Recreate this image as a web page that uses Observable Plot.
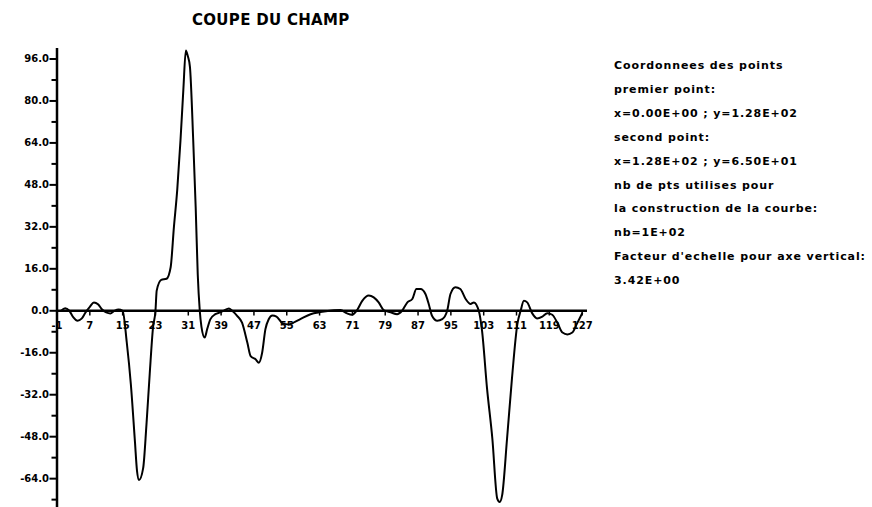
<!DOCTYPE html>
<html>
<head>
<meta charset="utf-8">
<script src="https://cdn.jsdelivr.net/npm/d3@7"></script>
<script src="https://cdn.jsdelivr.net/npm/@observablehq/plot@0.6"></script>
<style>
  html, body { margin: 0; padding: 0; background: white; }
  #wrap { position: relative; width: 872px; height: 507px; overflow: hidden; font-family: "DejaVu Sans", sans-serif; }
  #title { position: absolute; left: 192px; top: 11px; font-size: 15px; font-weight: bold; white-space: nowrap; letter-spacing: 0.3px; }
  #info { position: absolute; left: 614px; top: 54px; font-size: 11px; font-weight: bold; line-height: 23.9px; letter-spacing: 0.9px; white-space: nowrap; }
  svg { position: absolute; left: 0; top: 0; }
</style>
</head>
<body>
<div id="wrap">
  <div id="title"></div>
  <div id="info"></div>
</div>
<script>
const title = "COUPE DU CHAMP";
const infoLines = [
  "Coordonnees des points",
  "premier point:",
  "x=0.00E+00 ; y=1.28E+02",
  "second point:",
  "x=1.28E+02 ; y=6.50E+01",
  "nb de pts utilises pour",
  "la construction de la courbe:",
  "nb=1E+02",
  "Facteur d'echelle pour axe vertical:",
  "3.42E+00"
];
const xTicks = [-1, 7, 15, 23, 31, 39, 47, 55, 63, 71, 79, 87, 95, 103, 111, 119, 127];
const yMajor = [96, 80, 64, 48, 32, 16, 0, -16, -32, -48, -64];
const yMinor = [88, 72, 56, 40, 24, 8, -8, -24, -40, -56, -72];

const curveX = [0, 1, 2, 3, 4, 5, 6, 7, 8, 9, 10, 11, 12, 13, 14, 15,
  16, 17, 18, 18.5, 19, 20, 20.8, 21.6, 22.4, 23, 23.3, 24.4, 25.7, 26.7, 27.5, 28.3, 29.1, 29.8, 30.4, 30.9, 31.4, 32.2, 32.8, 33.3, 33.8,
  34.2, 35, 35.6, 36.4, 37.6, 38.8, 39.6, 40.9, 41.7, 42.9, 44.1, 45.4, 46.2, 47.4, 48.2, 49, 49.8, 50.6, 51.5, 52.5, 54, 55.5, 57, 58.3, 60.8, 63.2, 66.5,
  68.1, 69.7, 70.9, 72.2, 73.4, 75, 76.2, 77.4, 78.6, 80.3, 81.9, 83.1, 84.4, 85.6, 86.6, 87.6, 88.8, 89.6, 90.4, 91.7, 92.9, 94.1, 94.9, 96.1, 97.3, 98.6, 99.8,
  100.6, 101.8, 102.6, 103.8, 105.1, 106.3, 106.9, 107.5, 108.7, 109.9, 111.2, 112, 112.8, 113.6, 114.8, 116, 117.3, 118.5, 119.7, 121, 122.2, 123.4, 124.6, 125.8, 127];
const curveY = [0, 1.0, 0, -2.5, -3.8, -3.0, -0.5, 1.5, 3.2, 2.5, 0.5, -0.6, -1.0, 0, 0.5, 0,
  -12, -28, -50, -61, -64.5, -60, -43.5, -24, -6.4, 0, 7.7, 11.8, 12.2, 16.6, 32, 46, 65, 84.4, 99.2, 97, 93, 65, 39.6, 14, 0,
  -6, -10.2, -7, -3.2, -1.3, -0.6, 0, 0.9, 0, -1.9, -4.5, -12.2, -17.3, -18.5, -19.8, -16, -7, -3.2, -1.8, -2.2, -4.8, -5.2, -4.2, -3.2, -1.3, -0.5, 0.2,
  0.3, -1, -1.5, 0.4, 3.8, 5.8, 5.1, 3.2, 0.3, -0.6, -1.3, 0, 3.2, 4.5, 8.3, 8.3, 6.4, 2.6, -1.9, -3.8, -3.2, 0, 6.4, 9, 8.3, 4.5, 2.6,
  3.2, 0, -7.7, -29.4, -48.6, -71.6, -72.9, -70.3, -48.6, -25.6, -5.1, 0, 3.8, 3.2, -0.9, -2.9, -2.2, -0.9, -1.5, -4.7, -8.3, -9, -8.3, -4.7, -1];

const data = curveX.map((x, i) => ({x, y: curveY[i]}));

document.getElementById("title").textContent = title;
document.getElementById("info").innerHTML = infoLines.map(s => `<div>${s}</div>`).join("");

const chart = Plot.plot({
  width: 872,
  height: 507,
  marginLeft: 56.5,
  marginRight: 285,
  marginTop: 48,
  marginBottom: 0,
  style: {background: "transparent", color: "black", fontFamily: "DejaVu Sans, sans-serif"},
  x: {domain: [-1, 128.3], axis: null},
  y: {domain: [-75, 100], axis: null},
  marks: [
    Plot.ruleX([-1], {y1: -75, y2: 100, strokeWidth: 2.5}),
    Plot.ruleY([0], {x1: -1, x2: 128.3, strokeWidth: 2.5}),
    Plot.axisY({ticks: yMajor, tickSize: 7, tickPadding: 1, tickFormat: d => d.toFixed(1), fontSize: 10, fontWeight: "bold", strokeWidth: 2, label: null}),
    Plot.axisY({ticks: yMinor, tickSize: 5, tickFormat: () => "", strokeWidth: 2, label: null}),
    Plot.ruleX(xTicks, {x: d => d, y1: 0, y2: -2, strokeWidth: 1.5}),
    Plot.text(xTicks, {x: d => d, y: 0, dy: 15, text: d => String(d), fontSize: 10, fontWeight: "bold"}),
    Plot.line(data, {x: "x", y: "y", curve: "monotone-x", strokeWidth: 2})
  ]
});
document.getElementById("wrap").appendChild(chart);
</script>
</body>
</html>
